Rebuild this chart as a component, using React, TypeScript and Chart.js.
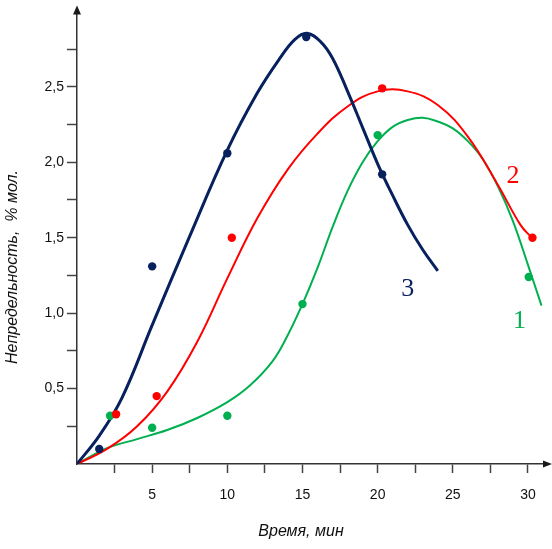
import React, { useEffect, useRef } from 'react'
import { Chart, registerables, type ChartConfiguration, type Plugin } from 'chart.js'

Chart.register(...registerables)

// fitted curves (x = время, мин; y = непредельность, % мол.)
const curve1X = [0, 2, 4, 6, 8, 10, 11.5, 13, 14, 15, 16, 17, 18, 19, 20, 21, 22, 23, 24, 25, 26, 27, 28, 29, 30, 30.9]
const curve1Y = [0, 0.105, 0.165, 0.225, 0.305, 0.41, 0.52, 0.68, 0.85, 1.06, 1.3, 1.57, 1.81, 2.0, 2.14, 2.235, 2.28, 2.295, 2.27, 2.225, 2.14, 2.02, 1.84, 1.61, 1.32, 1.05]

const curve2X = [0, 2, 4, 6, 8, 10, 12, 14, 16, 18, 20, 22, 24, 26, 28, 29.5, 30.25]
const curve2Y = [0, 0.1, 0.25, 0.48, 0.81, 1.23, 1.63, 1.95, 2.19, 2.37, 2.47, 2.47, 2.38, 2.17, 1.85, 1.585, 1.5]

const curve3X = [0, 1.5, 3, 5, 7.5, 10, 12, 13.5, 14.5, 15.3, 16.2, 17, 18, 19, 20, 21, 22, 23, 24]
const curve3Y = [0, 0.19, 0.44, 0.92, 1.51, 2.08, 2.46, 2.69, 2.815, 2.855, 2.8, 2.69, 2.47, 2.23, 1.99, 1.78, 1.585, 1.42, 1.28]

// measured points
const points1X = [2.2, 5.0, 10.0, 15.0, 20.0, 30.05]
const points1Y = [0.32, 0.24, 0.32, 1.06, 2.18, 1.24]
const points2X = [2.6, 5.3, 10.3, 20.3, 30.3]
const points2Y = [0.33, 0.45, 1.5, 2.49, 1.5]
const points3X = [1.48, 5.0, 10.0, 15.25, 20.3]
const points3Y = [0.1, 1.31, 2.06, 2.83, 1.92]

// curve numbers and where they sit (data coords)
const curveNames = ['1', '2', '3']
const nameX = [29.43, 29.0, 22.0]
const nameY = [0.95, 1.91, 1.16]

const xTitle = 'Время, мин'
const yTitle = 'Непредельность,  % мол.'

const GREEN = '#00b050'
const RED = '#ff0000'
const NAVY = '#06215e'

const xy = (xs: number[], ys: number[]) => xs.map((x, i) => ({ x, y: ys[i] }))

const decor: Plugin = {
  id: 'decor',
  afterDraw(chart) {
    const { ctx, chartArea: { left, right, top, bottom } } = chart
    const xs = chart.scales.x
    const ys = chart.scales.y
    ctx.save()
    // arrow heads
    ctx.fillStyle = '#1a1a1a'
    ctx.beginPath()
    ctx.moveTo(left, top - 6)
    ctx.lineTo(left - 4, top + 3)
    ctx.lineTo(left + 4, top + 3)
    ctx.closePath()
    ctx.fill()
    ctx.beginPath()
    ctx.moveTo(right + 9, bottom)
    ctx.lineTo(right, bottom - 3.5)
    ctx.lineTo(right, bottom + 3.5)
    ctx.closePath()
    ctx.fill()

    // axis titles
    ctx.fillStyle = '#111'
    ctx.font = 'italic 16px "Liberation Sans", Arial, sans-serif'
    ctx.textAlign = 'center'
    ctx.textBaseline = 'middle'
    ctx.fillText(xTitle, (left + right) / 2 - 9, bottom + 68)
    ctx.translate(13, bottom - 197)
    ctx.rotate(-Math.PI / 2)
    ctx.fillText(yTitle, 0, 0)
    ctx.restore()

    // curve numbers
    ctx.save()
    ctx.font = '26px "Liberation Serif", "Times New Roman", serif'
    ctx.textAlign = 'center'
    ctx.textBaseline = 'middle'
    const cols = [GREEN, RED, NAVY]
    curveNames.forEach((n, i) => {
      ctx.fillStyle = cols[i]
      ctx.fillText(n, xs.getPixelForValue(nameX[i]), ys.getPixelForValue(nameY[i]))
    })
    ctx.restore()
  },
}

export default function App() {
  const canvasRef = useRef<HTMLCanvasElement>(null)
  const chartRef = useRef<Chart | null>(null)

  useEffect(() => {
    if (!canvasRef.current) return
    chartRef.current?.destroy()

    const dot = (label: string, data: { x: number; y: number }[], color: string) => ({
      label, data,
      showLine: false,
      borderColor: color,
      backgroundColor: color,
      pointRadius: 4.2,
      pointBorderWidth: 0,
    })
    const curve = (label: string, data: { x: number; y: number }[], color: string, w: number) => ({
      label, data,
      borderColor: color,
      backgroundColor: 'transparent',
      borderWidth: w,
      pointRadius: 0,
      fill: false,
      tension: 0.4,
    })

    const tickFont = { family: '"Liberation Sans", Arial, sans-serif', size: 14 }

    const cfg: ChartConfiguration = {
      type: 'line',
      data: {
        datasets: [
          dot('3 points', xy(points3X, points3Y), NAVY),
          dot('2 points', xy(points2X, points2Y), RED),
          dot('1 points', xy(points1X, points1Y), GREEN),
          curve('3', xy(curve3X, curve3Y), NAVY, 3),
          curve('2', xy(curve2X, curve2Y), RED, 2),
          curve('1', xy(curve1X, curve1Y), GREEN, 2),
        ] as any,
      },
      options: {
        responsive: true,
        maintainAspectRatio: false,
        animation: false,
        layout: { padding: { left: 0, top: 8, right: 9, bottom: 0 } },
        plugins: {
          legend: { display: false },
          tooltip: { enabled: false },
        },
        scales: {
          x: {
            type: 'linear',
            min: 0,
            max: 31,
            afterFit: (s: any) => { s.height = 85 },
            afterBuildTicks: (s: any) => {
              s.ticks = s.ticks.filter((t: any) => t.value > 0 && t.value <= 30)
            },
            ticks: {
              stepSize: 2.5,
              includeBounds: false,
              autoSkip: false,
              maxRotation: 0,
              padding: 14,
              color: '#111',
              font: tickFont,
              callback: (v: any) => (Number(v) % 5 === 0 ? String(v) : ''),
            },
            grid: { drawOnChartArea: false, drawTicks: true, tickLength: 9, color: '#444', tickWidth: 1.5 },
            border: { display: true, color: '#333', width: 1.5 },
          },
          y: {
            type: 'linear',
            min: 0,
            max: 3,
            afterFit: (s: any) => { s.width = 77 },
            afterBuildTicks: (s: any) => {
              s.ticks = s.ticks.filter((t: any) => t.value > 0 && t.value < 3)
            },
            ticks: {
              stepSize: 0.25,
              includeBounds: false,
              autoSkip: false,
              padding: 3,
              color: '#111',
              font: tickFont,
              callback: (v: any) => {
                const n = Number(v)
                return Math.abs(n * 2 - Math.round(n * 2)) < 1e-6 ? n.toFixed(1).replace('.', ',') : ''
              },
            },
            grid: { drawOnChartArea: false, drawTicks: true, tickLength: 10, color: '#444', tickWidth: 1.5 },
            border: { display: true, color: '#333', width: 1.5 },
          },
        },
      },
      plugins: [decor],
    }
    chartRef.current = new Chart(canvasRef.current, cfg)
    return () => { chartRef.current?.destroy() }
  }, [])

  return (
    <div style={{ position: 'absolute', left: 0, top: 0, width: 552, height: 549, background: '#fff' }}>
      <canvas ref={canvasRef} />
    </div>
  )
}
